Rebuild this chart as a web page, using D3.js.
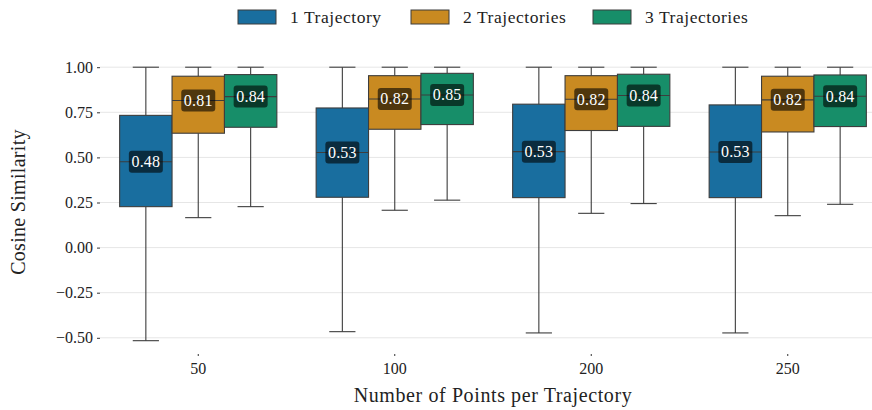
<!DOCTYPE html>
<html><head><meta charset="utf-8">
<script src="https://cdn.jsdelivr.net/npm/d3@7/dist/d3.min.js"></script>
<style>body{margin:0;background:#fff}svg{display:block}</style>
</head><body><svg id="c" width="872" height="410"></svg>
<script>
const categories = ["50","100","200","250"];
const series = ["1 Trajectory","2 Trajectories","3 Trajectories"];
const colors = ["#196e9f","#c98a21","#178e69"];
// [lowWhisker, q1, median, q3, highWhisker] per category, per series
const stats1 = [[-0.516,0.227,0.476,0.733,1.0],[-0.466,0.279,0.527,0.774,1.0],[-0.473,0.277,0.532,0.795,1.0],[-0.473,0.277,0.530,0.791,1.0]];
const stats2 = [[0.166,0.634,0.815,0.950,1.0],[0.207,0.656,0.824,0.953,1.0],[0.190,0.649,0.822,0.953,1.0],[0.177,0.641,0.819,0.950,1.0]];
const stats3 = [[0.227,0.667,0.837,0.959,1.0],[0.263,0.682,0.846,0.966,1.0],[0.244,0.672,0.843,0.961,1.0],[0.240,0.671,0.839,0.957,1.0]];
const medianLabels = [["0.48","0.81","0.84"],["0.53","0.82","0.85"],["0.53","0.82","0.84"],["0.53","0.82","0.84"]];
const yTicks = [-0.5,-0.25,0,0.25,0.5,0.75,1.0];

const FONT = "'Liberation Serif', 'Times New Roman', serif";
const allStats = [stats1, stats2, stats3];
const svg = d3.select("#c").style("font-family", FONT);
const y = d3.scaleLinear().domain([-0.5,1]).range([337.8,67.2]);
const x = d3.scaleBand().domain(categories).range([100,886]).padding(0);
const xs = d3.scaleBand().domain(series).range([x.bandwidth()*0.1, x.bandwidth()*0.9]).padding(0);

// grid
svg.append("g").selectAll("line").data(yTicks).join("line")
  .attr("x1",100).attr("x2",872).attr("y1",d=>y(d)).attr("y2",d=>y(d))
  .attr("stroke","#e6e6e6").attr("stroke-width",1);

// y axis
const yAxis = d3.axisLeft(y).tickValues(yTicks).tickSize(3).tickPadding(4)
  .tickFormat(d=>d3.format(".2f")(d).replace("-","\u2212"));
const ga = svg.append("g").attr("transform","translate(100,0)").call(yAxis);
ga.attr("font-family",null).attr("font-size",null);
ga.select(".domain").remove();
ga.selectAll("line").attr("stroke","#333");
ga.selectAll("text").style("font-family",FONT).style("font-size","16px").attr("fill","#222");

const xAxis = d3.axisBottom(x).tickSize(2).tickPadding(7);
const gx = svg.append("g").attr("transform","translate(0,354)").call(xAxis);
gx.attr("font-family",null).attr("font-size",null);
gx.select(".domain").remove();
gx.selectAll("line").attr("stroke","#333");
gx.selectAll("text").style("font-family",FONT).style("font-size","16px").attr("fill","#222");

// boxes
const edge = "#3d3d3d";
series.forEach((s,si)=>{
  categories.forEach((c,ci)=>{
    const st = allStats[si][ci];
    const x0 = x(c)+xs(s), w = xs.bandwidth(), cx = x0+w/2;
    const g = svg.append("g");
    g.append("line").attr("x1",cx).attr("x2",cx).attr("y1",y(st[0])).attr("y2",y(st[1])).attr("stroke",edge).attr("stroke-width",1.1);
    g.append("line").attr("x1",cx).attr("x2",cx).attr("y1",y(st[3])).attr("y2",y(st[4])).attr("stroke",edge).attr("stroke-width",1.1);
    [st[0],st[4]].forEach(v=>g.append("line").attr("x1",cx-w/4).attr("x2",cx+w/4).attr("y1",y(v)).attr("y2",y(v)).attr("stroke",edge).attr("stroke-width",1.1));
    g.append("rect").attr("x",x0).attr("y",y(st[3])).attr("width",w).attr("height",y(st[1])-y(st[3]))
      .attr("fill",colors[si]).attr("stroke",edge).attr("stroke-width",1.1);
    g.append("line").attr("x1",x0).attr("x2",x0+w).attr("y1",y(st[2])).attr("y2",y(st[2])).attr("stroke",edge).attr("stroke-width",1.1);
    const lab = medianLabels[ci][si];
    g.append("rect").attr("x",cx-17).attr("y",y(st[2])-11).attr("width",34).attr("height",22).attr("rx",3)
      .attr("fill","#000").attr("fill-opacity",0.6);
    g.append("text").attr("x",cx).attr("y",y(st[2])+5.5).attr("text-anchor","middle")
      .style("font-size","16px").style("letter-spacing","0.2px").attr("fill","#fff").text(lab);
  });
});

// legend
const legX = [238,411,593];
series.forEach((s,i)=>{
  svg.append("rect").attr("x",legX[i]).attr("y",10).attr("width",38).attr("height",14)
    .attr("fill",colors[i]).attr("stroke",edge).attr("stroke-width",1);
  svg.append("text").attr("x",legX[i]+52).attr("y",23).style("font-size","17.5px").style("letter-spacing","0.55px")
    .attr("fill","#222").text(s);
});

// axis titles
svg.append("text").attr("x",493).attr("y",402).attr("text-anchor","middle").style("font-size","20px").style("letter-spacing","0.6px")
  .attr("fill","#222").text("Number of Points per Trajectory");
svg.append("text").attr("transform","translate(25,202) rotate(-90)").attr("text-anchor","middle").style("font-size","20px")
  .style("letter-spacing","0.3px").attr("fill","#222").text("Cosine Similarity");
</script></body></html>
